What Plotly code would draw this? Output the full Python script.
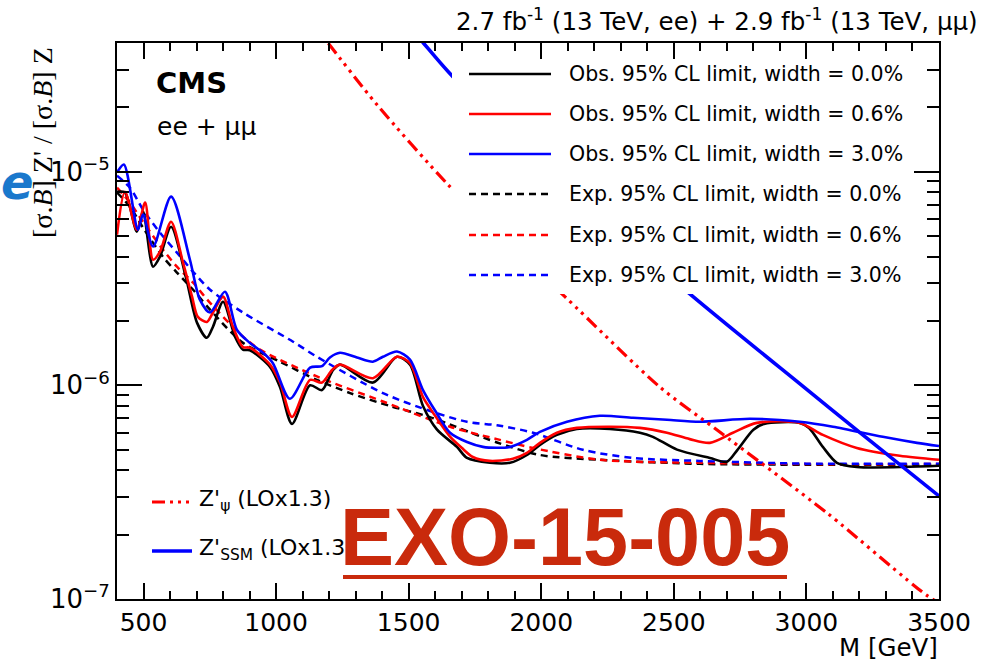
import plotly.graph_objects as go

# ---- observed limits (mass in GeV, ratio of sigma.B) ----
obs00_mass = [400, 430, 475, 498, 536, 562, 604, 660, 702, 739, 762, 800, 845, 875, 901, 977,
              1015, 1060, 1128, 1173, 1215, 1241, 1365, 1456, 1505, 1554, 1607, 1682, 1720,
              1806, 1882, 1946, 1995, 2059, 2134, 2259, 2372, 2421, 2512, 2636, 2700, 2740,
              2800, 2840, 2975, 3010, 3062, 3115, 3190, 3500]
obs00_val = [8.05e-6, 7.98e-6, 5.24e-6, 6.5e-6, 3.59e-6, 4.0e-6, 5.52e-6, 3.2e-6, 1.96e-6,
             1.67e-6, 1.88e-6, 2.46e-6, 1.69e-6, 1.47e-6, 1.46e-6, 1.22e-6, 9.8e-7, 6.6e-7,
             1.0e-6, 9.5e-7, 1.18e-6, 1.25e-6, 1.03e-6, 1.36e-6, 1.25e-6, 8.0e-7, 6.2e-7,
             5.15e-7, 4.57e-7, 4.34e-7, 4.34e-7, 4.72e-7, 5.26e-7, 5.86e-7, 6.25e-7, 6.25e-7,
             6.0e-7, 5.74e-7, 5.0e-7, 4.57e-7, 4.39e-7, 4.99e-7, 6.2e-7, 6.6e-7, 6.67e-7,
             6.32e-7, 5.15e-7, 4.34e-7, 4.15e-7, 4.2e-7]

obs06_mass = [400, 430, 475, 506, 536, 562, 604, 649, 683, 705, 739, 762, 800, 837, 875, 901,
              977, 1015, 1060, 1128, 1173, 1211, 1241, 1365, 1456, 1505, 1554, 1600, 1656,
              1700, 1742, 1806, 1893, 1946, 1995, 2059, 2134, 2259, 2372, 2474, 2560, 2636,
              2723, 2813, 2975, 3062, 3190, 3352, 3500]
obs06_val = [5.07e-6, 8.05e-6, 5.35e-6, 7.16e-6, 3.87e-6, 4.22e-6, 5.83e-6, 3.75e-6, 2.6e-6,
             2.09e-6, 1.98e-6, 2.19e-6, 2.6e-6, 1.88e-6, 1.51e-6, 1.5e-6, 1.25e-6, 1.03e-6,
             7.11e-7, 1.06e-6, 1.03e-6, 1.18e-6, 1.25e-6, 1.08e-6, 1.36e-6, 1.27e-6, 8.8e-7,
             7.2e-7, 5.75e-7, 5.1e-7, 4.62e-7, 4.43e-7, 4.53e-7, 4.83e-7, 5.38e-7, 6.0e-7,
             6.32e-7, 6.4e-7, 6.32e-7, 6.0e-7, 5.6e-7, 5.38e-7, 6.0e-7, 6.67e-7, 6.67e-7,
             5.86e-7, 5.09e-7, 4.68e-7, 4.48e-7]

obs30_mass = [400, 426, 479, 498, 536, 604, 675, 713, 751, 807, 852, 901, 951, 988, 1052, 1128,
              1173, 1203, 1241, 1305, 1365, 1403, 1456, 1505, 1554, 1600, 1656, 1720, 1780,
              1833, 1882, 1946, 1995, 2097, 2221, 2346, 2474, 2598, 2787, 2975, 3100, 3288,
              3417, 3500]
obs30_val = [9.9e-6, 1.08e-5, 5.35e-6, 6.3e-6, 4.46e-6, 7.64e-6, 3.87e-6, 2.51e-6, 2.19e-6,
             2.74e-6, 1.82e-6, 1.58e-6, 1.42e-6, 1.27e-6, 8.65e-7, 1.21e-6, 1.23e-6, 1.35e-6,
             1.42e-6, 1.35e-6, 1.29e-6, 1.36e-6, 1.44e-6, 1.32e-6, 9.5e-7, 7.6e-7, 6.0e-7,
             5.43e-7, 5.15e-7, 5.1e-7, 5.15e-7, 5.56e-7, 6.05e-7, 6.75e-7, 7.2e-7, 7.05e-7,
             6.9e-7, 6.75e-7, 6.97e-7, 6.75e-7, 6.4e-7, 5.74e-7, 5.38e-7, 5.2e-7]

# ---- expected limits ----
exp00_mass = [400, 449, 498, 573, 626, 687, 751, 875, 1015, 1154, 1279, 1430, 1580, 1833,
              1995, 2221, 2598, 3000, 3500]
exp00_val = [7.98e-6, 6.85e-6, 5.47e-6, 4.0e-6, 3.37e-6, 2.8e-6, 2.26e-6, 1.58e-6, 1.29e-6,
             1.06e-6, 9.2e-7, 8.0e-7, 7.1e-7, 5.4e-7, 4.72e-7, 4.48e-7, 4.29e-7, 4.25e-7, 4.25e-7]

exp06_mass = [400, 449, 498, 573, 626, 687, 751, 875, 939, 1154, 1403, 1656, 1833, 1969,
              2221, 2598, 3000, 3500]
exp06_val = [8.41e-6, 7.16e-6, 5.83e-6, 4.32e-6, 3.59e-6, 3.02e-6, 2.43e-6, 1.69e-6, 1.47e-6,
             1.1e-6, 8.4e-7, 6.4e-7, 5.6e-7, 5.09e-7, 4.48e-7, 4.34e-7, 4.28e-7, 4.28e-7]

exp30_mass = [400, 449, 498, 562, 626, 687, 751, 875, 1064, 1154, 1403, 1592, 1720, 1833,
              1969, 2157, 2346, 2598, 3000, 3500]
exp30_val = [9.57e-6, 8.41e-6, 6.64e-6, 5.18e-6, 4.18e-6, 3.4e-6, 2.8e-6, 2.19e-6, 1.6e-6,
             1.36e-6, 9.2e-7, 7.5e-7, 6.75e-7, 6.5e-7, 6.0e-7, 4.99e-7, 4.57e-7, 4.43e-7,
             4.3e-7, 4.3e-7]

# ---- theory predictions (LO x 1.3) ----
psi_mass = [1100, 1196, 1380, 1648, 1850, 2089, 2448, 2662, 3077, 3454, 3520]
psi_val = [5.7e-5, 4.0e-5, 2.06e-5, 8.7e-6, 4.9e-6, 2.6e-6, 9.8e-7, 6.19e-7, 2.53e-7, 1.04e-7, 9.3e-8]

ssm_mass = [1400, 1554, 1652, 2000, 2568, 3000, 3202, 3520]
ssm_val = [6.8e-5, 4.02e-5, 2.91e-5, 1.07e-5, 2.63e-6, 9.6e-7, 6.0e-7, 2.9e-7]

x_ticks = [500, 1000, 1500, 2000, 2500, 3000, 3500]
y_ticks = [1e-7, 1e-6, 1e-5]
y_ticktext = ["10<sup>\u22127</sup>", "10<sup>\u22126</sup>", "10<sup>\u22125</sup>"]

legend_labels = [
    "Obs. 95% CL limit, width = 0.0%",
    "Obs. 95% CL limit, width = 0.6%",
    "Obs. 95% CL limit, width = 3.0%",
    "Exp. 95% CL limit, width = 0.0%",
    "Exp. 95% CL limit, width = 0.6%",
    "Exp. 95% CL limit, width = 3.0%",
]

BLACK, RED, BLUE = "#000000", "#ff0000", "#0000ff"
EXP_DASH = "7px,5px"
PSI_DASH = "13px,5px,3px,5px,3px,5px,3px,5px"
FONT = "DejaVu Sans, Liberation Sans, sans-serif"

# plot-area geometry in pixels (used for the overlay boxes / text)
W, H = 984, 662
L, R, T, B = 117, 45, 43, 63
PW, PH = W - L - R, H - T - B


def px(x):
    return (x - L) / PW


def py(y):
    return (H - B - y) / PH


fig = go.Figure()

series = [
    (exp00_mass, exp00_val, BLACK, EXP_DASH, 2.5),
    (exp06_mass, exp06_val, RED, EXP_DASH, 2.5),
    (exp30_mass, exp30_val, BLUE, EXP_DASH, 2.5),
    (obs00_mass, obs00_val, BLACK, "solid", 2.6),
    (obs06_mass, obs06_val, RED, "solid", 2.6),
    (obs30_mass, obs30_val, BLUE, "solid", 2.6),
    (psi_mass, psi_val, RED, PSI_DASH, 3.2),
    (ssm_mass, ssm_val, BLUE, "solid", 3.6),
]
for m, v, c, d, w in series:
    fig.add_trace(go.Scatter(x=m, y=v, mode="lines",
                             line=dict(color=c, dash=d, width=w, shape="spline", smoothing=0.8),
                             showlegend=False, hoverinfo="skip"))

minor_x = [m for m in range(500, 3500, 100) if m % 500]
minor_y = [k * 10.0 ** e for e in (-7, -6, -5) for k in range(2, 10) if k * 10.0 ** e < 4e-5]

fig.update_xaxes(range=[400, 3500], tickvals=x_ticks, ticks="inside", ticklen=16, tickwidth=1.5,
                 tickcolor="black", showline=True, linewidth=2, linecolor="black", mirror="ticks",
                 showgrid=False, zeroline=False, tickfont=dict(family=FONT, size=25, color="black"),
                 minor=dict(tickvals=minor_x, ticklen=8, tickwidth=1.5, tickcolor="black",
                            ticks="inside", showgrid=False))
fig.update_yaxes(type="log", range=[-7, -4.398], tickvals=y_ticks, ticktext=y_ticktext,
                 ticks="inside", ticklen=25, tickwidth=1.5, tickcolor="black", showline=True,
                 linewidth=2, linecolor="black", mirror="ticks", showgrid=False, zeroline=False,
                 tickfont=dict(family=FONT, size=26, color="black"),
                 minor=dict(tickvals=minor_y, ticklen=12, tickwidth=1.5, tickcolor="black",
                            ticks="inside", showgrid=False))

shapes = [
    # legend background
    dict(type="rect", xref="paper", yref="paper", x0=px(452), x1=px(912), y0=py(294), y1=py(62),
         fillcolor="white", line=dict(width=0), layer="above"),
]
legend_styles = [(BLACK, "solid"), (RED, "solid"), (BLUE, "solid"),
                 (BLACK, EXP_DASH), (RED, EXP_DASH), (BLUE, EXP_DASH)]
legend_rows = [74, 114, 154, 194, 235, 275]
annotations = []
for (c, d), yrow, lab in zip(legend_styles, legend_rows, legend_labels):
    shapes.append(dict(type="line", xref="paper", yref="paper", x0=px(469), x1=px(551),
                       y0=py(yrow), y1=py(yrow), line=dict(color=c, dash=d, width=2.5), layer="above"))
    annotations.append(dict(text=lab, xref="paper", yref="paper", x=px(567), y=py(yrow),
                            xanchor="left", yanchor="middle", showarrow=False,
                            font=dict(family=FONT, size=20.5, color="black")))

# theory legend (bottom left)
shapes.append(dict(type="line", xref="paper", yref="paper", x0=px(152), x1=px(192),
                   y0=py(502), y1=py(502), line=dict(color=RED, dash=PSI_DASH, width=3.2), layer="above"))
shapes.append(dict(type="line", xref="paper", yref="paper", x0=px(152), x1=px(192),
                   y0=py(551), y1=py(551), line=dict(color=BLUE, width=3.6), layer="above"))
annotations += [
    dict(text="Z'<sub>\u03c8</sub> (LOx1.3)", xref="paper", yref="paper", x=px(197), y=py(500),
         xanchor="left", yanchor="middle", showarrow=False,
         font=dict(family=FONT, size=22, color="black")),
    dict(text="Z'<sub>SSM</sub> (LOx1.3)", xref="paper", yref="paper", x=px(197), y=py(549),
         xanchor="left", yanchor="middle", showarrow=False,
         font=dict(family=FONT, size=22, color="black")),
]

EXO_RED = "#c92a0c"
shapes.append(dict(type="line", xref="paper", yref="paper", x0=px(343), x1=px(787),
                   y0=py(577), y1=py(577), line=dict(color=EXO_RED, width=4), layer="above"))

annotations += [
    dict(text="<b>CMS</b>", xref="paper", yref="paper", x=px(154), y=py(83), xanchor="left",
         yanchor="middle", showarrow=False, font=dict(family=FONT, size=29, color="black")),
    dict(text="ee + \u03bc\u03bc", xref="paper", yref="paper", x=px(155), y=py(127), xanchor="left",
         yanchor="middle", showarrow=False, font=dict(family=FONT, size=25, color="black")),
    dict(text="2.7 fb<sup>-1</sup> (13 TeV, ee) + 2.9 fb<sup>-1</sup> (13 TeV, \u03bc\u03bc)",
         xref="paper", yref="paper", x=px(980), y=py(20), xanchor="right", yanchor="middle",
         showarrow=False, font=dict(family=FONT, size=24.5, color="black")),
    dict(text="M [GeV]", xref="paper", yref="paper", x=px(940), y=py(648), xanchor="right",
         yanchor="middle", showarrow=False, font=dict(family=FONT, size=24.5, color="black")),
    dict(text="[\u03c3.<i>B</i>] Z' / [\u03c3.<i>B</i>] Z", xref="paper", yref="paper", x=px(42),
         y=py(143), xanchor="center", yanchor="middle", textangle=-90, showarrow=False,
         font=dict(family="Liberation Serif, Times New Roman, serif", size=28, color="black")),
    dict(text="<b><i>e</i></b>", xref="paper", yref="paper", x=px(17), y=py(182), xanchor="center",
         yanchor="middle", showarrow=False, font=dict(family=FONT, size=48, color="#1a78cc")),
    dict(text="<b>EXO-15-005</b>", xref="paper", yref="paper", x=px(565), y=py(537),
         xanchor="center", yanchor="middle", showarrow=False,
         font=dict(family="Liberation Sans, Arial, sans-serif", size=81, color=EXO_RED)),
]

fig.update_layout(width=W, height=H, margin=dict(l=L, r=R, t=T, b=B),
                  paper_bgcolor="white", plot_bgcolor="white", showlegend=False,
                  shapes=shapes, annotations=annotations)

fig.write_html("out.html")
